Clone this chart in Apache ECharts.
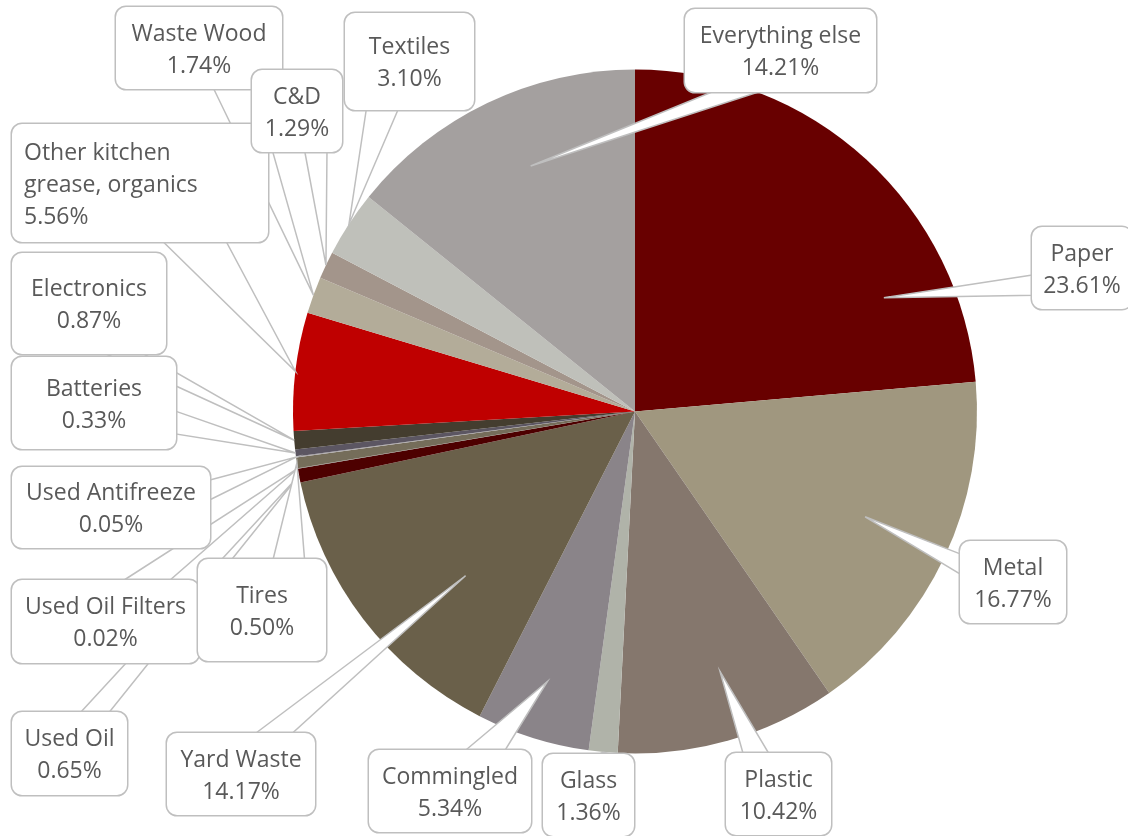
<!DOCTYPE html>
<html>
<head>
<meta charset="utf-8">
<script src="https://cdn.jsdelivr.net/npm/echarts@6/dist/echarts.min.js"></script>
<style>
  html, body { margin: 0; padding: 0; background: #ffffff; }
  #chart { width: 1128px; height: 836px; }
</style>
</head>
<body>
<div id="chart"></div>
<script>
// Waste composition, percent of total
const categories = [
  'Paper', 'Metal', 'Plastic', 'Glass', 'Commingled', 'Yard Waste',
  'Used Oil', 'Used Oil Filters', 'Tires', 'Used Antifreeze', 'Batteries',
  'Electronics', 'Other kitchen grease, organics', 'Waste Wood', 'C&D',
  'Textiles', 'Everything else'
];
const shares = [
  23.61, 16.77, 10.42, 1.36, 5.34, 14.17,
  0.65, 0.02, 0.50, 0.05, 0.33,
  0.87, 5.56, 1.74, 1.29,
  3.10, 14.21
];
const sliceColors = [
  '#680000', '#A0977F', '#85776D', '#B0B3A9', '#8A8489', '#6A604A',
  '#4D0000', '#8E8A86', '#756D5A', '#A9A5A8', '#5C5662',
  '#443D2F', '#BF0000', '#B3AC99', '#A3958B',
  '#BFC0BA', '#A4A09F'
];
// Line breaks used inside the callout text
const labelBreaks = { 'Other kitchen grease, organics': 'Other kitchen\ngrease, organics' };

// Callout boxes: [left, top, width, height]
const calloutBoxes = [
  [1032, 227, 100, 82],
  [960, 541, 106, 82],
  [726, 753, 105, 82],
  [543, 754, 91, 82],
  [369, 750, 162, 82],
  [167, 733, 148, 82],
  [12, 712, 115, 83],
  [12, 580, 187, 83],
  [198, 559, 128, 102],
  [12, 467, 198, 81],
  [12, 357, 164, 92],
  [12, 253, 154, 101],
  [12, 124, 256, 118],
  [116, 7, 166, 82],
  [252, 70, 90, 82],
  [345, 13, 129, 97],
  [685, 9, 191, 83]
];
// Pointer tip of each callout: [fraction of radius, position across the slice]
const calloutTips = [
  [0.80, 0.77], [0.74, 0.49], [0.80, 0.44], [1.0, 0.5], [0.83, 0.53], [0.69, 0.37],
  [1.0, 0.5], [1.0, 0.5], [1.0, 0.5], [1.0, 0.5], [1.0, 0.5],
  [1.0, 0.5], [1.0, 0.5], [1.0, 0.5], [1.0, 0.5],
  [1.0, 0.5], [0.78, 0.55]
];
const leftAligned = ['Other kitchen grease, organics'];

const CX = 635, CY = 411.5, R = 342;
const LINE_H = 32;
const FONT = '"Open Sans", Lato, sans-serif';

function labelText(name, value) {
  return (labelBreaks[name] || name) + '\n' + value.toFixed(2) + '%';
}

// Pointer wedge of a rounded-rectangle callout (base sits on the side facing the tip)
function wedgePoints(box, tip) {
  const [bx, by, w, h] = box;
  const hc = bx + w / 2, vc = by + h / 2;
  const dx = tip[0] - hc, dy = tip[1] - vc;
  const dq = dx * h / w;
  if (Math.abs(dy) > Math.abs(dq)) {
    const y = dy < 0 ? by + 2 : by + h - 2;
    const x1 = bx + w * (dx > 0 ? 7 : 2) / 12;
    const x2 = bx + w * (dx > 0 ? 10 : 5) / 12;
    return [[x1, y], tip, [x2, y]];
  }
  const x = dx < 0 ? bx + 2 : bx + w - 2;
  const y1 = by + h * (dy > 0 ? 7 : 2) / 12;
  const y2 = by + h * (dy > 0 ? 10 : 5) / 12;
  return [[x, y1], tip, [x, y2]];
}

const total = shares.reduce((a, b) => a + b, 0);
const wedges = [];
let cum = 0;
shares.forEach((v, i) => {
  const [rf, t] = calloutTips[i];
  const ang = (cum + t * v) / total * 2 * Math.PI;
  const tip = [CX + rf * R * Math.sin(ang), CY - rf * R * Math.cos(ang)];
  wedges.push({
    type: 'polygon',
    z: 2,
    silent: true,
    shape: { points: wedgePoints(calloutBoxes[i], tip) },
    style: { fill: '#ffffff', stroke: '#BFBFBF', lineWidth: 1.5, lineJoin: 'miter' }
  });
  cum += v;
});

const sliceData = categories.map((name, i) => ({
  name: name, value: shares[i], itemStyle: { color: sliceColors[i] }
}));

const labelData = categories.map((name, i) => {
  const [bx, by, w, h] = calloutBoxes[i];
  const lines = labelText(name, shares[i]).split('\n').length;
  const padV = Math.max(0, (h - lines * LINE_H) / 2);
  const padH = leftAligned.includes(name) ? 12 : 2;
  return {
    name: name,
    value: shares[i],
    itemStyle: { color: 'rgba(0,0,0,0)' },
    label: {
      width: w - 2 * padH,
      padding: [padV + 2, padH, padV - 2, padH],
      align: leftAligned.includes(name) ? 'left' : 'center'
    }
  };
});

const chart = echarts.init(document.getElementById('chart'), null, { renderer: 'canvas' });
chart.setOption({
  backgroundColor: '#ffffff',
  animation: false,
  graphic: wedges,
  series: [
    {
      type: 'pie',
      z: 1,
      silent: true,
      center: [CX, CY],
      radius: R,
      startAngle: 90,
      clockwise: true,
      avoidLabelOverlap: false,
      label: { show: false },
      labelLine: { show: false },
      itemStyle: { borderWidth: 0 },
      data: sliceData
    },
    {
      type: 'pie',
      z: 3,
      silent: true,
      center: [CX, CY],
      radius: R,
      startAngle: 90,
      clockwise: true,
      avoidLabelOverlap: false,
      itemStyle: { borderWidth: 0 },
      label: {
        show: true,
        position: 'outside',
        formatter: p => labelText(p.name, p.value),
        fontFamily: FONT,
        fontSize: 23,
        lineHeight: LINE_H,
        color: '#595959',
        backgroundColor: '#ffffff',
        borderColor: '#BFBFBF',
        borderWidth: 1.5,
        borderRadius: 10,
        overflow: 'none'
      },
      labelLine: { show: false },
      labelLayout: params => {
        const i = params.dataIndex;
        const [bx, by, w] = calloutBoxes[i];
        const left = leftAligned.includes(categories[i]);
        return {
          x: left ? bx : bx + w / 2,
          y: by,
          align: left ? 'left' : 'center',
          verticalAlign: 'top'
        };
      },
      data: labelData
    }
  ]
});
</script>
</body>
</html>
